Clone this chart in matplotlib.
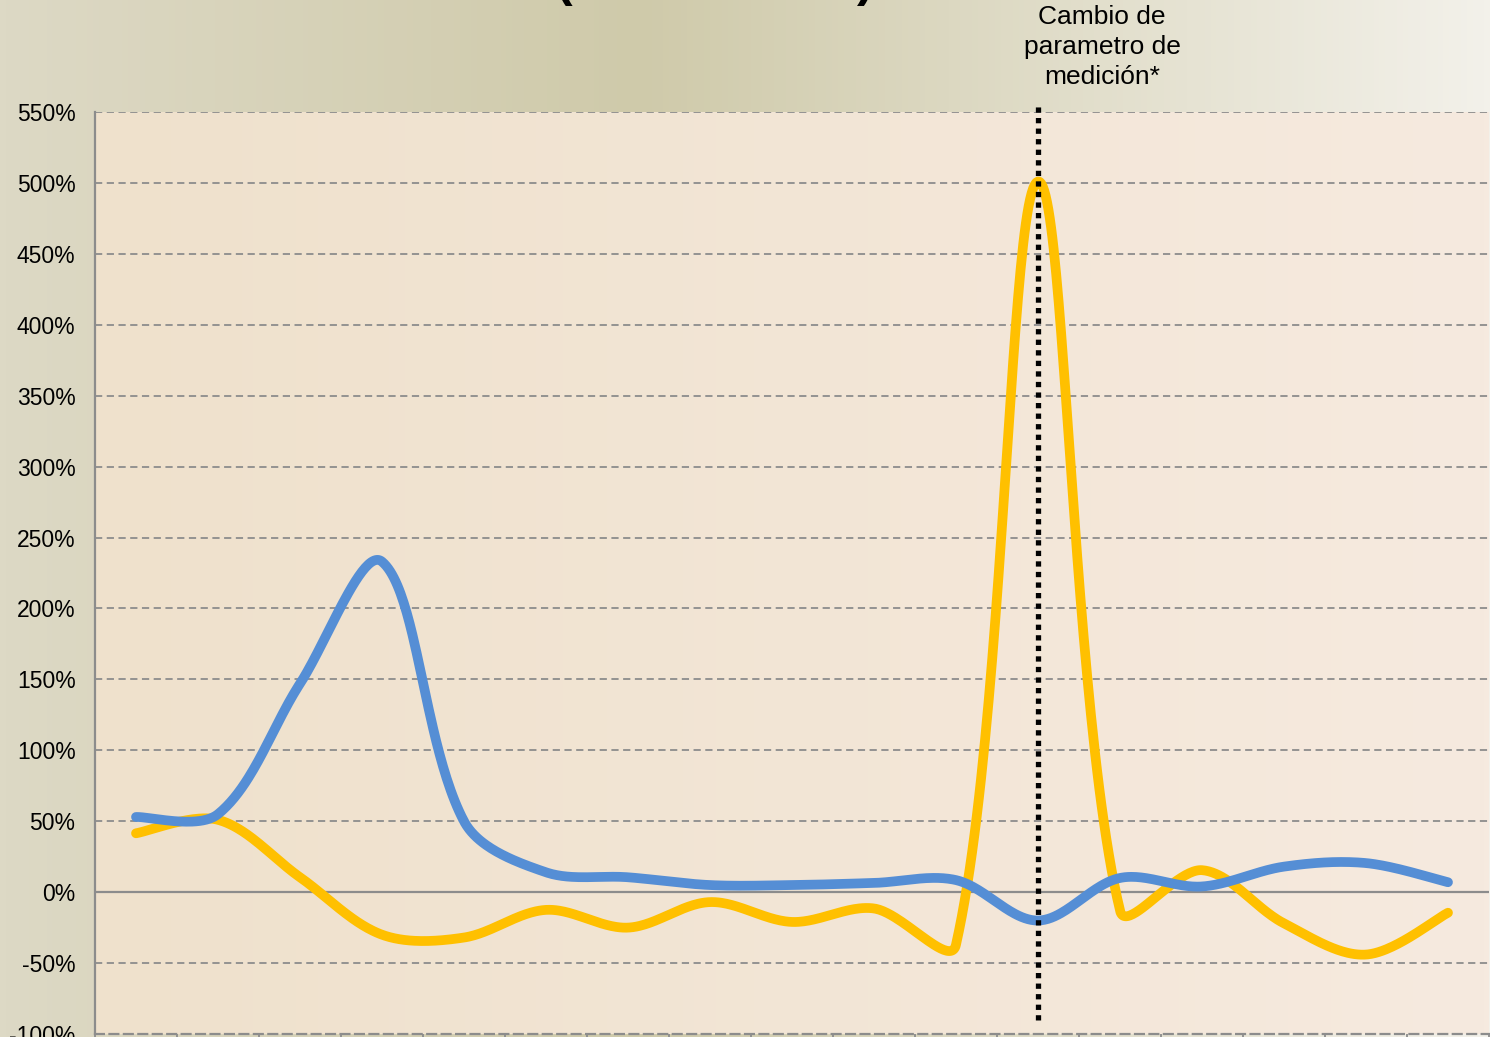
import numpy as np
import matplotlib
matplotlib.use('Agg')
import matplotlib.pyplot as plt
from matplotlib.colors import LinearSegmentedColormap

plt.rcParams['font.family'] = ['Liberation Sans', 'DejaVu Sans']

# Datos (variacion porcentual por periodo)
categorias = list(range(17))
serie_azul = [53, 55, 147, 233, 50, 14, 10.5, 5, 5, 6.5, 8.5, -20, 10, 4, 18, 20.5, 7]
serie_amarilla = [41.5, 51, 10.5, -30, -32, -12.5, -25, -7, -21, -11.5, -37, 501, -13, 15.5, -22, -44, -14.5]
y_ticks = list(range(-100, 551, 50))
indice_cambio = 11
texto_cambio = 'Cambio de\nparametro de\nmedición*'

AZUL = '#558ed5'
AMARILLO = '#ffc000'
GRIS = '#8c8c8c'


def suavizar(ax, x, y, n=50):
    # linea suavizada tipo Excel, calculada en pixeles con tangentes
    # repartidas segun la longitud de cada tramo
    pts = ax.transData.transform(np.column_stack([x, y]).astype(float))
    m = len(pts)
    out = []
    for i in range(m - 1):
        p0, p3 = pts[i], pts[i + 1]
        a = pts[max(i - 1, 0)]
        b = pts[min(i + 2, m - 1)]
        # tangente en p0
        d_prev = np.linalg.norm(p0 - a)
        d_next = np.linalg.norm(p3 - p0)
        t0 = p3 - a
        c1 = p0 + t0 * (d_next / (d_prev + d_next)) / 3 if i > 0 else p0 + (p3 - p0) / 6
        # tangente en p3
        d_prev2 = np.linalg.norm(p3 - p0)
        d_next2 = np.linalg.norm(b - p3)
        t3 = b - p0
        c2 = p3 - t3 * (d_prev2 / (d_prev2 + d_next2)) / 3 if i + 1 < m - 1 else p3 - (p3 - p0) / 6
        t = np.linspace(0, 1, n)[:, None]
        seg = (1 - t) ** 3 * p0 + 3 * (1 - t) ** 2 * t * c1 + 3 * (1 - t) * t ** 2 * c2 + t ** 3 * p3
        out.append(seg)
    out = ax.transData.inverted().transform(np.vstack(out))
    return out[:, 0], out[:, 1]


fig = plt.figure(figsize=(14.9, 10.37), dpi=100)

# fondo degradado de la figura
bg = fig.add_axes([0, 0, 1, 1], zorder=-10)
cmap_fig = LinearSegmentedColormap.from_list('fig', [(0, '#ddd9c5'), (0.43, '#cfcaaa'), (0.8, '#e6e3d3'), (1, '#f3f1ea')])
bg.imshow(np.linspace(0, 1, 256)[None, :], cmap=cmap_fig, aspect='auto', extent=[0, 1, 0, 1])
bg.set_axis_off()

pos = [95 / 1490, 3 / 1037, 1394 / 1490, 922 / 1037]
fondo = fig.add_axes(pos, zorder=-5)
cmap_plot = LinearSegmentedColormap.from_list('plot', ['#efe1cc', '#f6eadf'])
fondo.imshow(np.linspace(0, 1, 256)[None, :], cmap=cmap_plot, aspect='auto', extent=[0, 1, 0, 1])
fondo.set_axis_off()

ax = fig.add_axes(pos)
ax.set_facecolor('none')
ax.set_xlim(-0.5, len(categorias) - 0.5)
ax.set_ylim(-100, 550)

for yv in y_ticks:
    if yv == 0:
        ax.axhline(yv, color=GRIS, lw=1.6, zorder=1)
    elif yv > -100:
        ax.axhline(yv, color=GRIS, lw=1.3, ls=(0, (4, 2.5)), zorder=1)

xs, ys = suavizar(ax, categorias, serie_amarilla)
ax.plot(xs, ys, color=AMARILLO, lw=7, solid_capstyle='round', zorder=3)
xs, ys = suavizar(ax, categorias, serie_azul)
ax.plot(xs, ys, color=AZUL, lw=7, solid_capstyle='round', zorder=4)

# linea vertical del cambio de parametro
ax.plot([indice_cambio, indice_cambio], [-90, 554], color='black', lw=3.8,
        ls=(0, (1, 1)), dash_capstyle='butt', clip_on=False, zorder=5)

ax.set_yticks(y_ticks)
ax.set_yticklabels([f'{v}%' for v in y_ticks], fontsize=16.5)
ax.tick_params(axis='y', length=0, pad=14)
ax.set_xticks([i - 0.5 for i in range(len(categorias) + 1)])
ax.set_xticklabels([])
ax.tick_params(axis='x', length=8, color=GRIS, width=1.3, direction='out')

for s in ['top', 'right']:
    ax.spines[s].set_visible(False)
for s in ['left', 'bottom']:
    ax.spines[s].set_color(GRIS)
    ax.spines[s].set_linewidth(1.6)
ax.spines['bottom'].set_linestyle((0, (4, 2.5)))

fig.text(1102 / 1490, 1 - 47 / 1037, texto_cambio, ha='center', va='center',
         multialignment='center', fontsize=19, linespacing=1.3)

# titulo cortado en la parte superior
fig.text(564 / 1490, 1 - 6 / 1037, '(', ha='center', va='bottom', fontsize=36, fontweight='bold')
fig.text(865 / 1490, 1 - 6 / 1037, ')', ha='center', va='bottom', fontsize=36, fontweight='bold')

fig.savefig('out.png', dpi=100)
